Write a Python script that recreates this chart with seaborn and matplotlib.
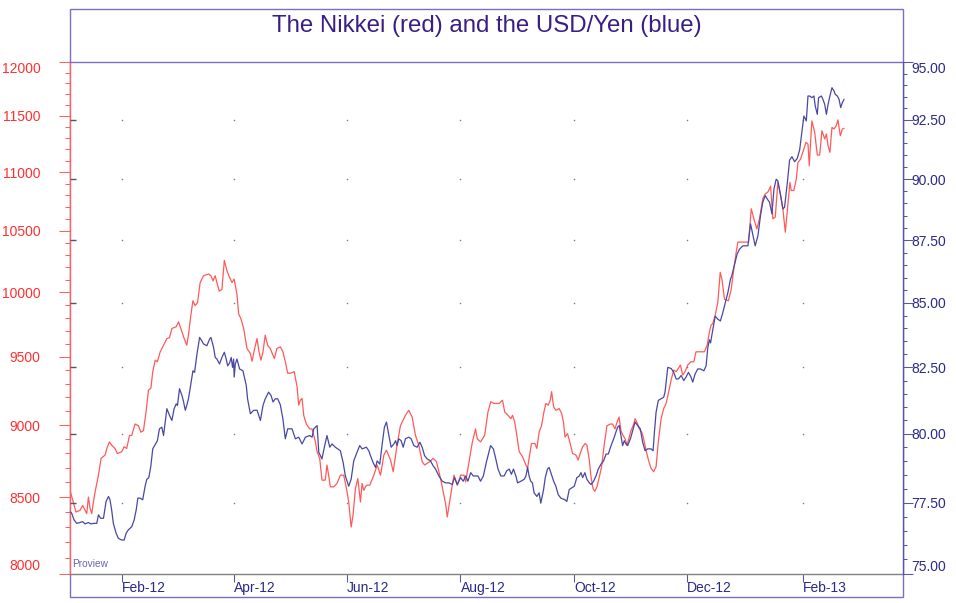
import numpy as np
import pandas as pd
import matplotlib
matplotlib.use("Agg")
import matplotlib.pyplot as plt
import matplotlib.dates as mdates
from matplotlib.ticker import FixedLocator, FuncFormatter, NullFormatter
from matplotlib.patches import Rectangle
import seaborn as sns

## day offsets are calendar days counted from the first session (4 Jan 2012)
start = pd.Timestamp("2012-01-04")

nikkei_day = [0, 3.2, 5.4, 6.8, 8.1, 9, 9.9, 10.8, 11.7, 12.6, 13.5, 15.3, 16.7, 18.9, 19.8, 21.2, 22.4, 24.2,
              25.5, 27.8, 29.1, 30.5, 32, 33.2, 35, 36.8, 38.1, 39.5, 40.9, 42.2, 43.5, 44.5, 45.8, 47, 48.5,
              49.9, 52.1, 53.5, 54.8, 57.1, 58.4, 60.2, 61.4, 62.8, 63.7, 65, 66.1, 67.3, 68.6, 70, 71.8, 74.5,
              75.8, 76.9, 78.1, 79, 80.3, 81.7, 83, 84.4, 85.8, 87.1, 88.3, 89.8, 90.7, 91.9, 93.4, 94.3, 95.2,
              97, 97.9, 99.3, 100.6, 101.5, 102.7, 103.8, 105, 106.3, 107.7, 109.9, 111.3, 113.1, 114.5, 115.8,
              117.1, 118.5, 120.6, 122.1, 123, 123.9, 124.8, 125.7, 127.1, 128.9, 130.2, 131.1, 132, 132.9,
              134.3, 135.5, 137.3, 138.2, 139.1, 140, 141.8, 143.6, 145.4, 147.2, 148.7, 149.9, 151.2, 152.2,
              153.5, 154.8, 156.2, 157.1, 158, 159.4, 161.2, 163.4, 165.2, 167, 168.8, 170.2, 172.4, 173.8,
              175.9, 177.7, 180.4, 182.2, 184, 185.8, 187.6, 189.4, 190.7, 193.5, 195.3, 197.1, 199.3, 202,
              202.9, 204.7, 206.5, 208.3, 210.1, 211.9, 212.8, 214.6, 216.4, 218.1, 219, 220.8, 223, 224.8,
              226.3, 228.1, 230.8, 232.6, 233.8, 235.6, 237.1, 238, 239.2, 240.3, 241.6, 243.4, 245.2, 246.1,
              246.9, 248.2, 250, 251.1, 252.3, 253.6, 254.7, 255.9, 257.2, 258.3, 259, 260.1, 261.3, 263.1,
              264.4, 265.4, 266.2, 267.6, 269, 270.3, 272.1, 273.3, 274.4, 275.7, 277.1, 278, 279.3, 280.2,
              281.3, 282.3, 283.4, 284.7, 285.9, 287.4, 288.8, 290.6, 291.8, 293.1, 294.2, 295.3, 296.3, 297.4,
              298.5, 299.6, 300.8, 301.7, 303.2, 303.9, 305.3, 306.2, 307.5, 308.5, 309.8, 311.1, 312.5, 313.9,
              315.2, 316.4, 317.9, 319.3, 320.6, 321.8, 323.3, 324.7, 326, 327.2, 328.3, 329.5, 330.8, 332.2,
              334, 335.5, 336.7, 341.2, 342.7, 343.9, 344.8, 345.7, 347, 348.4, 349.7, 350.6, 352, 354.1,
              355.6, 357, 358.3, 359.2, 364.9, 366.4, 367.8, 369.4, 370.8, 372.6, 373.9, 375.3, 376.8, 378,
              379.3, 380.7, 382.2, 383.4, 384.7, 385.7, 387.2, 387.9, 389.3, 390.6, 391.5, 392.9, 394.7, 395.8,
              396.9, 397.6, 398.3, 399, 400.5, 401.9, 403.2, 404.4, 405.9, 406.8, 407.7, 408.7, 409.8, 410.9,
              412.1, 413, 414.3, 415.4, 416.3]
nikkei = [8546, 8400, 8411, 8444, 8411, 8389, 8500, 8424, 8389, 8467, 8535, 8649, 8765, 8788, 8834, 8880, 8857, 8834,
          8799, 8811, 8846, 8834, 8926, 8926, 9007, 8995, 8949, 8960, 9094, 9253, 9266, 9389, 9475, 9463, 9538,
          9576, 9639, 9645, 9716, 9729, 9767, 9691, 9639, 9588, 9665, 9818, 9932, 9893, 9919, 10077, 10131, 10145,
          10131, 10090, 10131, 10077, 10008, 10022, 10255, 10172, 10118, 10077, 10104, 9982, 9830, 9792, 9716, 9639, 9563,
          9525, 9467, 9563, 9639, 9550, 9475, 9538, 9665, 9588, 9563, 9487, 9563, 9576, 9538, 9463,
          9377, 9377, 9389, 9278, 9143, 9179, 9192, 9069, 9007, 8972, 8972, 8926, 8880, 8811,
          8765, 8615, 8615, 8719, 8649, 8569, 8569, 8592, 8649, 8649, 8557, 8467, 8300, 8377,
          8557, 8626, 8467, 8592, 8546, 8580, 8580, 8649, 8719, 8649, 8788, 8822, 8753, 8673,
          8857, 8995, 9069, 9106, 9057, 8926, 8857, 8742, 8719, 8742, 8765, 8742, 8626, 8455,
          8367, 8511, 8649, 8580, 8649, 8649, 8603, 8742, 8880, 8972, 8903, 8880, 8926, 9094,
          9168, 9155, 9155, 9179, 9094, 9069, 9045, 9069, 9020, 8926, 8811, 8776, 8719, 8696,
          8765, 8869, 8869, 8834, 8949, 8995, 9082, 9155, 9143, 9179, 9241, 9131, 9106, 9118,
          9082, 9020, 8915, 8938, 8869, 8799, 8788, 8753, 8799, 8846, 8869, 8857, 8753, 8638,
          8557, 8539, 8569, 8638, 8707, 8869, 8995, 9007, 9007, 8972, 9020, 9057, 8960, 8926,
          8903, 8857, 8915, 8960, 9007, 9045, 9007, 8972, 8949, 8903, 8822, 8753, 8696, 8673,
          8707, 8880, 9045, 9118, 9155, 9229, 9327, 9401, 9389, 9414, 9438, 9364, 9389, 9438,
          9463, 9463, 9538, 9538, 9588, 9691, 9742, 9754, 9818, 9919, 10159, 10104, 9944, 9932,
          10022, 10186, 10323, 10405, 10405, 10684, 10599, 10514, 10599, 10769, 10811, 10826, 10876, 10599,
          10614, 10910, 10797, 10684, 10487, 10656, 10910, 10840, 10840, 10938, 11083, 11113, 11203, 11262,
          11247, 11054, 11262, 11455, 11352, 11149, 11149, 11366, 11292, 11337, 11232, 11173, 11396, 11382,
          11411, 11464, 11321, 11382, 11387]

usd_day = [0, 0.9, 2.2, 3.6, 5.4, 6.8, 8.1, 9.9, 11.1, 12.9, 14.4, 15.3, 16.5, 18, 19.4, 20.7, 21.5, 22.4, 23.3,
           24.8, 26, 27.8, 29.1, 30.2, 31.4, 33.2, 34.5, 35.6, 36.5, 37.7, 39.1, 40.4, 41.3, 42.4, 43.5, 44.5,
           46, 47, 48.1, 49.4, 50.3, 51.2, 52.1, 53.5, 54.8, 56, 57.1, 57.8, 58.9, 60.2, 61.1, 62, 62.8, 63.7,
           64.6, 66.1, 67, 68.2, 69.7, 70.9, 71.8, 73.6, 75.1, 75.8, 77.2, 78.1, 79, 80.4, 81.7, 83, 84, 84.8,
           85.8, 86.7, 87.4, 88, 88.3, 88.9, 89.8, 91.2, 93, 94.8, 95.5, 97, 98.8, 100.6, 102.4, 103.8, 105,
           106.8, 108.1, 109.2, 110.4, 111.7, 113.1, 114.5, 115.8, 117.1, 119.4, 121.2, 123, 124.8, 126.6,
           128.9, 130.2, 131.1, 132.9, 133.8, 134.7, 135.5, 136.8, 138.2, 139.7, 140.9, 142.7, 145.4, 146.9,
           148.1, 149.9, 151.2, 152.6, 154, 155.8, 157.1, 159.4, 160.7, 161.6, 163, 164.3, 165.2, 166.6,
           167.9, 169.1, 170.2, 171.5, 172.7, 174.2, 175.1, 175.9, 176.8, 178.1, 179.2, 180.4, 182.2, 183.5,
           184.9, 186.7, 188.2, 189.4, 190.7, 192.1, 193.9, 195.3, 196.6, 198.4, 200.2, 202, 203.8, 205.6,
           206.8, 208.3, 210.1, 211.5, 212.8, 214, 215.5, 216.9, 219.4, 220.8, 222.3, 224.1, 226.2, 227.7,
           229, 230.2, 231.7, 233.5, 234.9, 236.2, 237.4, 238.5, 239.8, 240.7, 242.5, 244.3, 245.2, 246.1,
           246.9, 247.8, 248.7, 249.6, 251.1, 252.3, 253.2, 254.7, 255.6, 256.8, 257.7, 258.6, 260.1, 261.3,
           262.6, 264, 266.2, 267.2, 268.5, 269.8, 271.2, 272.6, 273.9, 274.8, 275.7, 276.9, 278, 279.3,
           280.2, 281.6, 282.9, 284.1, 285.6, 287, 288.3, 289.5, 291, 292.4, 293.6, 294.5, 295.4, 296.3,
           297.2, 298.1, 299, 299.9, 301.4, 302.6, 303.9, 305.3, 306.7, 308, 309.3, 310.7, 312.5, 313.6,
           314.3, 315.2, 316.4, 317.9, 319.3, 320, 321.5, 323.3, 324.7, 326, 327.2, 328.7, 330.1, 331.3,
           332.6, 334, 334.9, 336.2, 337.6, 339.1, 340.9, 342.1, 343, 343.9, 344.5, 345.7, 347, 348.4,
           349.8, 351.1, 352.4, 353.8, 355.2, 355.9, 357.7, 358.8, 360.1, 361.9, 364.6, 366, 367.3, 368.5,
           370, 371.4, 372.6, 373.9, 375, 376.2, 377.5, 378.6, 379.8, 380.7, 382.2, 383.4, 384.3, 385.8,
           387, 388.3, 389.7, 391.1, 392.4, 393.6, 394.7, 396, 396.9, 397.8, 399, 400.1, 400.8, 401.9,
           402.6, 404.1, 404.9, 405.9, 406.8, 407.7, 408.9, 409.8, 410.9, 411.6, 412.7, 413.6, 414.5, 415.4,
           416.3]
usd_yen = [77.18, 77.12, 76.88, 76.76, 76.79, 76.82, 76.74, 76.79, 76.74, 76.76, 76.76, 77.06, 76.94, 76.94, 77.54,
           77.72, 77.60, 77.24, 76.76, 76.41, 76.23, 76.17, 76.17, 76.41, 76.53, 76.64, 76.88, 77.24, 77.66, 77.66,
           77.60, 78.09, 78.34, 78.40, 78.83, 79.45, 79.63, 79.75, 80.19, 80.25, 79.94, 80.44, 80.94, 80.69, 80.50,
           80.94, 81.12, 81.06, 81.69, 81.44, 81.19, 80.88, 81.06, 81.31, 81.69, 82.37, 82.31, 82.97, 83.65, 83.52,
           83.40, 83.33, 83.59, 83.65, 83.27, 82.88, 82.82, 82.63, 82.88, 83.08, 82.82, 82.56, 82.67, 82.88, 82.50,
           82.82, 82.13, 82.63, 82.82, 82.44, 82.37, 81.81, 81.31, 80.75, 80.88, 80.88, 80.50, 81.06, 81.31, 81.56,
           81.44, 81.19, 81.31, 81.31, 81.09, 80.56, 79.82, 80.19, 80.19, 79.82, 79.88, 79.63, 79.88, 79.94, 79.88,
           80.19, 80.31, 79.32, 79.20, 79.08, 79.51, 79.94, 79.51, 79.63, 79.51, 79.38, 78.95, 78.46, 78.09, 78.34,
           79.01, 79.26, 79.57, 79.45, 79.51, 79.38, 79.20, 78.95, 78.77, 79.01, 78.89, 79.63, 80.25, 80.44, 79.94,
           79.51, 79.63, 79.75, 79.57, 79.82, 79.75, 79.51, 79.82, 79.88, 79.82, 79.57, 79.51, 79.69, 79.51, 79.20,
           79.08, 79.01, 78.83, 78.71, 78.46, 78.27, 78.21, 78.21, 78.15, 78.40, 78.15, 78.40, 78.27, 78.46, 78.27,
           78.58, 78.46, 78.46, 78.27, 78.46, 79.01, 79.57, 79.45, 79.08, 78.71, 78.46, 78.46, 78.65, 78.71, 78.52,
           78.71, 78.46, 78.21, 78.27, 78.34, 78.46, 78.77, 78.46, 78.27, 78.21, 77.85, 77.72, 77.85, 77.48, 77.97,
           78.40, 78.71, 78.77, 78.58, 78.27, 78.09, 77.78, 77.66, 77.60, 77.54, 77.97, 78.03, 78.09, 78.40, 78.46,
           78.58, 78.40, 78.58, 78.34, 78.21, 78.15, 78.27, 78.46, 78.71, 78.89, 79.01, 79.26, 79.26, 79.57, 79.82,
           80.06, 80.25, 80.31, 79.94, 79.57, 79.75, 79.63, 79.57, 79.82, 80.12, 80.44, 80.31, 80.19, 79.69, 79.38,
           79.45, 79.45, 79.38, 80.06, 80.81, 81.25, 81.31, 81.37, 81.56, 82.50, 82.46, 82.31, 82.06, 82.06, 82.19,
           82.00, 82.13, 82.31, 82.13, 81.94, 82.25, 82.44, 82.44, 82.37, 82.56, 83.25, 83.56, 83.44, 83.95, 84.48,
           84.36, 84.29, 84.62, 85.00, 85.40, 85.93, 86.07, 86.61, 86.94, 87.14, 87.27, 87.27, 88.16, 87.69, 87.27,
           87.69, 88.52, 89.05, 89.32, 89.18, 89.05, 88.57, 89.59, 90.00, 89.93, 89.32, 88.77, 88.84, 89.86, 90.80,
           90.94, 90.73, 90.87, 91.22, 91.97, 92.67, 92.46, 93.53, 93.53, 93.46, 93.53, 93.10, 92.74, 93.46, 93.53,
           93.39, 93.17, 92.74, 93.17, 93.60, 93.89, 93.75, 93.60, 93.53, 93.39, 93.03, 93.25, 93.39]

nikkei_ticks = [8000, 8500, 9000, 9500, 10000, 10500, 11000, 11500, 12000]
nikkei_minor = list(range(8000, 12001, 100))
usd_ticks = [75, 77.5, 80, 82.5, 85, 87.5, 90, 92.5, 95]
usd_minor = list(np.arange(75, 95.01, 0.5))
month_ticks = ["2012-02-01", "2012-04-01", "2012-06-01", "2012-08-01", "2012-10-01", "2012-12-01", "2013-02-01"]
x_end = "2013-03-27"
title = "The Nikkei (red) and the USD/Yen (blue)"

RED_LINE = "#ff5a5a"
BLUE_LINE = "#4848a4"
RED_AXIS = "#ff6060"
RED_LABEL = "#ff3030"
NAVY = "#2a2a8a"
NAVY_SPINE = "#5a52ae"
BOX = "#7a6ec4"
TITLE_C = "#3a1e86"

sns.set_theme(style="white")
plt.rcParams["font.family"] = ["Liberation Sans", "DejaVu Sans"]

W, H = 956, 603
fig = plt.figure(figsize=(W / 100, H / 100), dpi=100)
fig.patch.set_facecolor("white")

def fx(px):
    return px / W

def fy(py):
    return 1 - py / H

## outer frame around title panel + chart
frame = Rectangle((fx(70), fy(597)), fx(903) - fx(70), fy(9) - fy(597), transform=fig.transFigure,
                  fill=False, edgecolor=BOX, linewidth=1.0, zorder=-1)
fig.add_artist(frame)
fig.text(fx(486.5), fy(32.3), title, ha="center", va="baseline", fontsize=17.3, color=TITLE_C)

ax = fig.add_axes([fx(70), fy(573.5), fx(903) - fx(70), fy(62.3) - fy(573.5)])
ax2 = ax.twinx()

nk = pd.DataFrame({"date": start + pd.to_timedelta(nikkei_day, unit="D"), "value": nikkei})
uj = pd.DataFrame({"date": start + pd.to_timedelta(usd_day, unit="D"), "value": usd_yen})

sns.lineplot(data=nk, x="date", y="value", ax=ax, color=RED_LINE, linewidth=0.9)
sns.lineplot(data=uj, x="date", y="value", ax=ax2, color=BLUE_LINE, linewidth=0.9)

ax.set_yscale("log")
ax2.set_yscale("log")
ax.set_ylim(nikkei_ticks[0], nikkei_ticks[-1])
ax2.set_ylim(usd_ticks[0], usd_ticks[-1])
ax.set_xlim(start, pd.Timestamp(x_end))
for a in (ax, ax2):
    a.set_xlabel("")
    a.set_ylabel("")

## left axis (Nikkei)
ax.yaxis.set_major_locator(FixedLocator(nikkei_ticks))
ax.yaxis.set_major_formatter(FuncFormatter(lambda v, p: f"{v:.0f}"))
ax.yaxis.set_minor_locator(FixedLocator(nikkei_minor))
ax.yaxis.set_minor_formatter(NullFormatter())
ax.tick_params(axis="y", which="major", left=True, right=False, direction="out", length=7.7, width=0.75,
               color=RED_AXIS, labelcolor=RED_LABEL, labelsize=10, pad=13.5)
ax.tick_params(axis="y", which="minor", left=True, right=False, direction="out", length=3.6, width=0.75,
               color=RED_AXIS)

## right axis (USD/Yen)
ax2.yaxis.set_major_locator(FixedLocator(usd_ticks))
ax2.yaxis.set_major_formatter(FuncFormatter(lambda v, p: f"{v:.2f}"))
ax2.yaxis.set_minor_locator(FixedLocator(usd_minor))
ax2.yaxis.set_minor_formatter(NullFormatter())
ax2.tick_params(axis="y", which="major", right=True, left=False, direction="out", length=7.2, width=0.75,
                color=NAVY_SPINE, labelcolor=NAVY, labelsize=10, pad=-1.0)
ax2.tick_params(axis="y", which="minor", right=True, left=False, direction="out", length=3.2, width=0.75,
                color=NAVY_SPINE)

## dates along the bottom
ax.xaxis.set_major_locator(FixedLocator(mdates.date2num(pd.to_datetime(month_ticks))))
ax.xaxis.set_major_formatter(mdates.DateFormatter("%b-%y"))
ax.xaxis.set_minor_locator(FixedLocator([]))
ax.tick_params(axis="x", which="major", bottom=True, top=False, direction="out", length=5.8, width=0.75,
               color=NAVY_SPINE, labelcolor=NAVY, labelsize=10, pad=-0.5)

## spines
ax.spines["left"].set_color(RED_AXIS)
ax.spines["bottom"].set_color("#808080")
ax.spines["top"].set_color(BOX)
ax.spines["right"].set_visible(False)
for s in ("left", "top", "bottom"):
    ax2.spines[s].set_visible(False)
ax2.spines["right"].set_color(NAVY_SPINE)
for a in (ax, ax2):
    for s in a.spines.values():
        s.set_linewidth(1.0)
ax.grid(False)
ax2.grid(False)

## dotted grid: one dot at each date / right-axis level crossing, short stubs on the left edge
inner = usd_ticks[1:-1]
gx, gy = np.meshgrid(mdates.date2num(pd.to_datetime(month_ticks)), inner)
ax2.scatter(gx.ravel(), gy.ravel(), s=1.3, color="#7878b8", linewidths=0, zorder=1)
ax2.hlines(inner, 0, 6 / 833, transform=ax2.get_yaxis_transform(), color="#555566", linewidth=1.0)

ax.text(0.003, 0.008, "Proview", transform=ax.transAxes, fontsize=7.3, color="#6a64b4", va="bottom", ha="left")

fig.canvas.draw()
for lab in ax.get_xticklabels():
    lab.set_ha("left")
ylabs = ax.get_yticklabels()
ylabs[0].set_va("bottom")
ylabs[-1].set_va("top")
ylabs2 = ax2.get_yticklabels()
ylabs2[0].set_va("bottom")
ylabs2[-1].set_va("top")

fig.savefig("out.png", dpi=100)
